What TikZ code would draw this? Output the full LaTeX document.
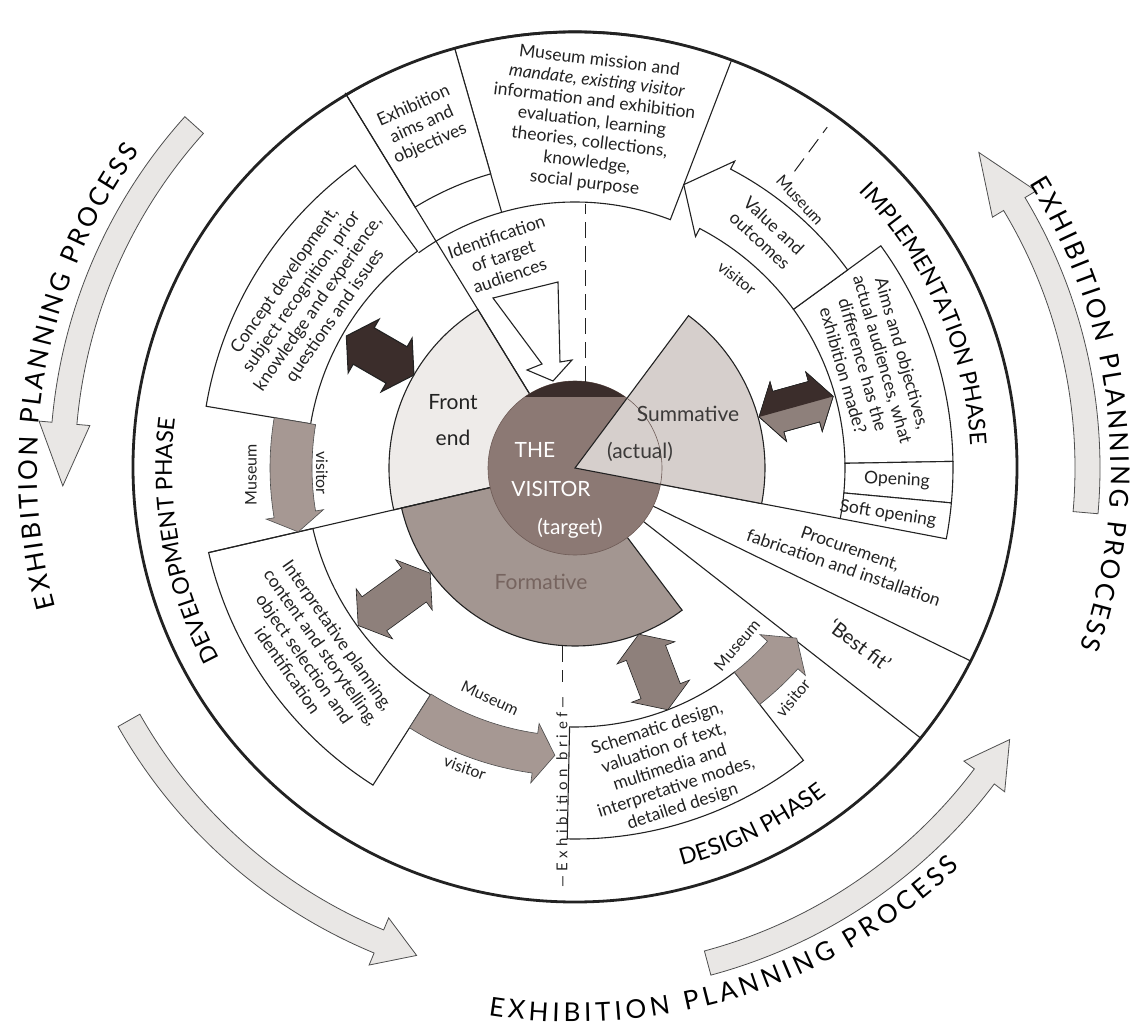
\documentclass[tikz,border=0pt]{standalone}
\usepackage{fontspec}
\setmainfont{Lato}
\usetikzlibrary{decorations.text}

\definecolor{inkgrey}{HTML}{222222}
\definecolor{frontfill}{HTML}{EEEBE9}
\definecolor{summfill}{HTML}{D6CFCC}
\definecolor{formfill}{HTML}{A39691}
\definecolor{visfill}{HTML}{8C7974}
\definecolor{visline}{HTML}{6E5B56}
\definecolor{darkfill}{HTML}{3B2D2B}
\definecolor{arrowfill}{HTML}{8E807B}
\definecolor{bandfill}{HTML}{A69893}
\definecolor{procfill}{HTML}{E9E7E5}
\definecolor{summtext}{HTML}{3C3A39}
\definecolor{formtext}{HTML}{76645F}

\newcommand\bodysize{\fontsize{17.5}{20.5}\selectfont}
\newcommand\smallsize{\fontsize{16}{18}\selectfont}
\newcommand\piesize{\fontsize{21}{36}\selectfont}
\newcommand\fitsize{\fontsize{20}{22}\selectfont}
\newcommand\phasesize{\fontsize{23}{23}\selectfont}
\newcommand\processsize{\fontsize{26}{26}\selectfont}
\newcommand\briefsize{\fontsize{15}{15}\selectfont\addfontfeatures{LetterSpace=30}}

\newcommand\ringbox[5][]{%
  \draw[#1] (#4:#2) arc[start angle=#4,end angle=#5,radius=#2]
    -- (#5:#3) arc[start angle=#5,end angle=#4,radius=#3] -- cycle;}
\newcommand\bandarrow[7][]{%
  \draw[#1] (#4:#2) arc[start angle=#4,end angle=#5,radius=#2]
    -- (#5:{#2-#7}) -- (#6:{(#2+#3)/2}) -- (#5:{#3+#7})
    -- (#5:#3) arc[start angle=#5,end angle=#4,radius=#3] -- cycle;}
\newcommand\twowayarrow[4][]{%
  \draw[#1,rotate=#2] (#3,0) -- ({#3+20},31) -- ({#3+20},21) -- ({#4-20},21)
    -- ({#4-20},31) -- (#4,0) -- ({#4-20},-31) -- ({#4-20},-21)
    -- ({#3+20},-21) -- ({#3+20},-31) -- cycle;}

\begin{document}
\begin{tikzpicture}[x=1pt,y=1pt,
    ink/.style={draw=inkgrey,line width=1.1pt},
    whitebox/.style={ink,fill=white},
    greyband/.style={draw=inkgrey!80,line width=0.6pt,fill=bandfill},
    hollow/.style={ink,fill=white},
    bigarrow/.style={draw=inkgrey!80,line width=0.8pt,fill=procfill},
    briefdash/.style={draw=inkgrey,line width=1pt,dash pattern=on 16pt off 8pt},
    boxtext/.style={align=center,inner sep=0pt,font=\bodysize,text=inkgrey},
    smalltext/.style={inner sep=0pt,font=\smallsize,text=inkgrey},
    pietext/.style={align=center,inner sep=0pt,font=\piesize,text=inkgrey}]
\useasboundingbox (-575,-562) rectangle (567,468);
\fill[white] (-575,-562) rectangle (567,468);

% planning process
\bandarrow[bigarrow]{500}{525}{138}{175}{182}{13}
\bandarrow[bigarrow]{500}{525}{209.5}{247.5}{252}{13}
\bandarrow[bigarrow]{500}{525}{285}{323}{328}{13}
\bandarrow[bigarrow]{500}{525}{-5}{31}{38}{13}
\path[decorate,decoration={text along path,text align={fit to path},
    text={|\processsize|EXHIBITION PLANNING PROCESS}}]
    (195:538) arc[start angle=195,end angle=144,radius=538];
\path[decorate,decoration={text along path,text align={fit to path},
    text={|\processsize|EXHIBITION PLANNING PROCESS}}]
    (32:536) arc[start angle=32,end angle=-19.6,radius=536];
\path[decorate,decoration={text along path,text align={fit to path},
    text={|\processsize|EXHIBITION PLANNING PROCESS}}]
    (261:554) arc[start angle=261,end angle=314,radius=554];

% evaluation pie
\draw[ink,fill=frontfill] (0,0) -- (121.5:186) arc[start angle=121.5,end angle=193,radius=186] -- cycle;
\draw[ink,fill=formfill] (0,0) -- (193:178) arc[start angle=193,end angle=307,radius=178] -- cycle;

% boxes
\ringbox[whitebox]{266}{437}{69}{106}
\ringbox[whitebox]{306}{437}{106}{121.5}
\draw[ink] (126:266) arc[start angle=126,end angle=106,radius=266];
\ringbox[whitebox]{268}{374}{126}{170.5}
\ringbox[whitebox]{269}{376}{193}{237.5}
\ringbox[whitebox]{259}{371}{268.8}{308}
\ringbox[whitebox]{270}{378}{1}{36}
\ringbox[whitebox]{270}{378}{-5.3}{1}
\ringbox[whitebox]{270}{378}{-10.8}{-5.3}

\draw[ink] (0,0) -- (121.5:440);
\draw[ink] (0,0) -- (193:376);
\draw[ink] (0,0) -- (-10.8:270);
\draw[ink] (0,0) -- (-26:440);
\draw[ink] (0,0) -- (-38:440);

% the visitor
\draw[draw=visline,line width=0.6pt,fill=visfill] (0,0) circle[radius=87];
\begin{scope}
  \clip (0,0) circle[radius=87];
  \fill[darkfill] (-90,71) rectangle (90,90);
\end{scope}
\draw[ink,fill=summfill] (0,0) -- (-10.8:190) arc[start angle=-10.8,end angle=53.3,radius=190] -- cycle;
\draw[visline,line width=0.6pt] (-10.8:87) arc[start angle=-10.8,end angle=53.3,radius=87];

% museum / visitor arrows
\bandarrow[greyband]{263}{305}{170.5}{189.4}{193}{8}
\bandarrow[greyband]{268}{308}{237.5}{262}{266}{10}
\bandarrow[greyband]{259}{300}{-52}{-42}{-37.5}{10}
\bandarrow[hollow]{270}{337}{36}{62.5}{69}{9}

\twowayarrow[ink,fill=darkfill]{150}{186}{264}
\twowayarrow[draw=inkgrey,line width=0.6pt,fill=arrowfill]{216}{179}{268}
\twowayarrow[draw=inkgrey,line width=0.6pt,fill=arrowfill]{291}{178}{259}
\twowayarrow[draw=inkgrey,line width=0.6pt,fill=arrowfill]{15.5}{191}{268}
\fill[darkfill,rotate=15.5] (191,0) -- (211,31) -- (211,21) -- (248,21) -- (248,31) -- (268,0) -- cycle;
\twowayarrow[draw=inkgrey,line width=0.6pt]{15.5}{191}{268}

\draw[hollow] (-82,170) -- (-17,186) -- (-15,106) -- (-3,108) -- (-22,87) -- (-48,98) -- (-33,104) -- cycle;

\draw[briefdash] (10,86) -- (10,264);
\draw[briefdash] (53.5:369) -- (53.5:424);
\draw[briefdash] (-13,-178) -- (-13,-214);

\draw[draw=inkgrey,line width=2.8pt] (0,1) ellipse[x radius=442,y radius=435];

% phases
\path[decorate,decoration={text along path,text align={center},
    text={|\phasesize|DEVELOPMENT PHASE}}]
    (230:403) arc[start angle=230,end angle=151,radius=403];
\path[decorate,decoration={text along path,text align={center},
    text={|\phasesize|IMPLEMENTATION PHASE}}]
    (60:396) arc[start angle=60,end angle=-12.5,radius=396];
\path[decorate,decoration={text along path,text align={center},
    text={|\phasesize|DESIGN PHASE}}]
    (-90:412) arc[start angle=-90,end angle=-37.3,radius=412];

% labels
\node[boxtext,rotate=-7] (mission) at (17,346) {Museum mission and\\\textit{mandate, existing visitor}\\information and exhibition\\evaluation, learning\\theories, collections,\\knowledge,\\social purpose};
\node[boxtext,rotate=24] (aimsobj) at (-153,343) {Exhibition\\aims and\\objectives};
\node[boxtext,rotate=55] (concept) at (-265,170) {Concept development,\\subject recognition, prior\\knowledge and experience,\\questions and issues};
\node[boxtext,rotate=19] (ident) at (-72,212) {Identification\\of target\\audiences};
\node[boxtext,rotate=-55] (interp) at (-262,-185) {Interpretative planning,\\content and storytelling,\\object selection and\\identification};
\node[boxtext,rotate=18] (schematic) at (95,-300) {Schematic design,\\valuation of text,\\multimedia and\\interpretative modes,\\detailed design};
\node[boxtext,rotate=-74] (aimsaud) at (298,106) {Aims and objectives,\\actual audiences, what\\difference has the\\exhibition made?};
\node[boxtext,rotate=-3] (opening) at (322,-12) {Opening};
\node[boxtext,rotate=-9] (softopen) at (313,-46) {Soft opening};
\node[boxtext,rotate=-19] (procure) at (272,-90) {Procurement,\\fabrication and installation};
\node[boxtext,rotate=-37,font=\fitsize] (bestfit) at (285,-177) {‘Best fit’};
\node[boxtext,rotate=-43] (value) at (192,235) {Value and\\outcomes};

\node[smalltext,rotate=90] (devmuseum) at (-324,-7) {Museum};
\node[smalltext,rotate=-90] (devvisitor) at (-253,-5) {visitor};
\node[smalltext,rotate=-25] (intmuseum) at (-85,-230) {Museum};
\node[smalltext,rotate=-20] (intvisitor) at (-110,-300) {visitor};
\node[smalltext,rotate=-47] (impmuseum) at (225,268) {Museum};
\node[smalltext,rotate=-38] (impvisitor) at (162,190) {visitor};
\node[smalltext,rotate=50] (desmuseum) at (162,-177) {Museum};
\node[smalltext,rotate=50] (desvisitor) at (218,-230) {visitor};

\node[pietext] (frontend) at (-122,48) {Front\\end};
\node[pietext,text=white] (the) at (-40,18) {THE};
\node[pietext,text=white] (visitor) at (-24,-21) {VISITOR};
\node[pietext,text=white] (target) at (-5,-60) {(target)};
\node[pietext,text=summtext] (summative) at (113,54) {Summative};
\node[pietext,text=summtext] (actual) at (65,16) {(actual)};
\node[pietext,text=formtext] (formative) at (-34,-114) {Formative};

\node[rotate=90,inner sep=0pt,font=\briefsize,text=inkgrey] (brief) at (-13,-324) {\textemdash Exhibition brief\textemdash};
\end{tikzpicture}
\end{document}
